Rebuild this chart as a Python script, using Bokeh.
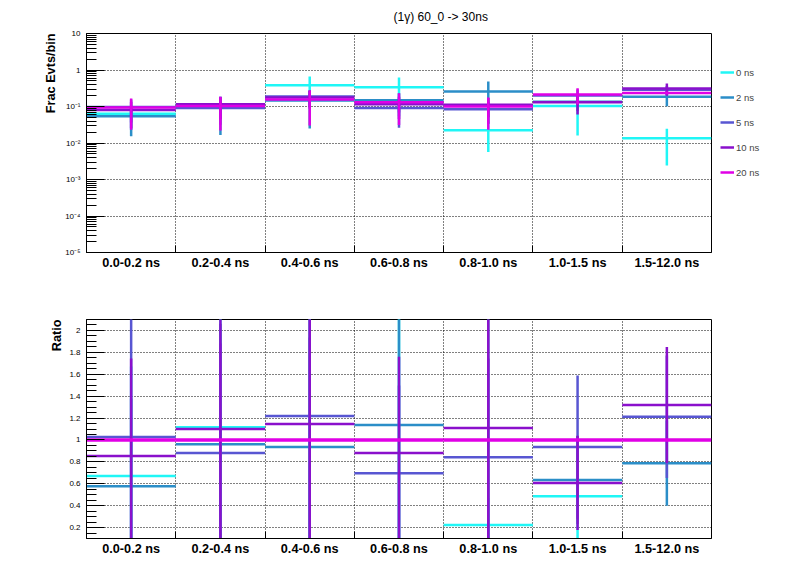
from bokeh.plotting import figure
from bokeh.layouts import column
from bokeh.models import (FixedTicker, CustomJSTickFormatter, Legend,
                          LegendItem, Range1d, Title)
from bokeh.embed import file_html
from bokeh.resources import INLINE

# ---------------- data ----------------
categories = ["0.0-0.2 ns", "0.2-0.4 ns", "0.4-0.6 ns", "0.6-0.8 ns",
              "0.8-1.0 ns", "1.0-1.5 ns", "1.5-12.0 ns"]
series_names = ["0 ns", "2 ns", "5 ns", "10 ns", "20 ns"]
colors = ["#20f6f6", "#2b8ec8", "#5856d2", "#8a10cc", "#e000e6"]

frac_0ns = [0.063, 0.116, 0.385, 0.339, 0.0223, 0.104, 0.0134]
frac_2ns = [0.0543, 0.100, 0.145, 0.149, 0.259, 0.1355, 0.186]
frac_5ns = [0.0965, 0.0915, 0.189, 0.0913, 0.0843, 0.200, 0.286]
frac_10ns = [0.0802, 0.1144, 0.1776, 0.1153, 0.111, 0.130, 0.3115]
frac_20ns = [0.094, 0.104, 0.155, 0.131, 0.100, 0.214, 0.236]

err_0ns = [0.040, 0.070, 0.280, 0.285, 0.0166, 0.088, 0.011]
err_2ns = [0.039, 0.0835, 0.120, 0.080, 0.226, 0.060, 0.085]
err_5ns = [0.060, 0.060, 0.090, 0.065, 0.050, 0.090, 0.080]
err_10ns = [0.055, 0.070, 0.090, 0.070, 0.060, 0.070, 0.116]
err_20ns = [0.071, 0.082, 0.125, 0.100, 0.077, 0.100, 0.020]

ratio_err_0ns = [1.0, 1.3, 2.5, 2.5, 0.25, 0.45, 0.04]
ratio_err_2ns = [0.8, 1.1, 1.0, 1.2, 2.5, 0.40, 0.39]
ratio_err_5ns = [1.2, 1.0, 1.2, 0.8, 0.9, 0.655, 0.56]
ratio_err_10ns = [0.89, 1.2, 1.3, 0.88, 1.2, 0.43, 0.53]
ratio_err_20ns = [0, 0, 0, 0, 0, 0, 0]

title_text = "(1\u03b3) 60_0 -> 30ns"
top_ylabel = "Frac Evts/bin"
bottom_ylabel = "Ratio"
log_ticks = [1e-5, 1e-4, 1e-3, 1e-2, 1e-1, 1, 10]
ratio_ticks = [0.2, 0.4, 0.6, 0.8, 1.0, 1.2, 1.4, 1.6, 1.8, 2.0]

values = [frac_0ns, frac_2ns, frac_5ns, frac_10ns, frac_20ns]
errors = [err_0ns, err_2ns, err_5ns, err_10ns, err_20ns]
ratio_errors = [ratio_err_0ns, ratio_err_2ns, ratio_err_5ns, ratio_err_10ns, ratio_err_20ns]
ref = frac_20ns

FONT = "Liberation Sans"
n = len(categories)
left = list(range(n))
right = [i + 1 for i in range(n)]
center = [i + 0.5 for i in range(n)]


def style(p, yticker, yformatter, ymajor_in, yminor_in):
    p.outline_line_color = "black"
    p.outline_line_width = 1
    p.outline_line_alpha = 1
    p.background_fill_color = "white"
    p.border_fill_color = "white"
    # x axis
    xt = FixedTicker(ticks=center, minor_ticks=list(range(1, n)))
    p.xaxis.ticker = xt
    p.xaxis.major_label_overrides = {c: lab for c, lab in zip(center, categories)}
    p.xaxis.major_tick_in = 0
    p.xaxis.major_tick_out = 0
    p.xaxis.minor_tick_in = 7
    p.xaxis.minor_tick_out = 0
    p.xaxis.major_label_text_font = FONT
    p.xaxis.major_label_text_font_style = "bold"
    p.xaxis.major_label_text_font_size = "12.7px"
    p.xaxis.major_label_text_color = "black"
    p.xaxis.major_label_standoff = 3
    p.xaxis.axis_line_color = "black"
    p.xaxis.major_label_orientation = "horizontal"
    p.xgrid.ticker = FixedTicker(ticks=list(range(1, n)))
    p.xgrid.grid_line_color = "black"
    p.xgrid.grid_line_dash = "1 2"
    p.xgrid.grid_line_width = 1
    # y axis
    p.yaxis.ticker = yticker
    p.ygrid.ticker = yticker
    p.yaxis.formatter = yformatter
    p.yaxis.major_tick_in = ymajor_in
    p.yaxis.major_tick_out = 0
    p.yaxis.minor_tick_in = yminor_in
    p.yaxis.minor_tick_out = 0
    p.yaxis.major_label_text_font = FONT
    p.yaxis.major_label_text_font_size = "8px"
    p.yaxis.major_label_text_color = "black"
    p.yaxis.major_label_standoff = 6
    p.yaxis.axis_line_color = "black"
    p.ygrid.grid_line_color = "black"
    p.ygrid.grid_line_dash = "1 2"
    p.ygrid.grid_line_width = 1


# ---------------- top panel ----------------
p1 = figure(frame_width=625, frame_height=219, min_border_left=86,
            min_border_right=77, min_border_top=33, min_border_bottom=37,
            x_range=Range1d(0, n), y_range=Range1d(1e-5, 10),
            y_axis_type="log", output_backend="svg", toolbar_location=None,
            title=None)

minor_log = [m * 10.0 ** k for k in range(-5, 1) for m in range(2, 10)]
log_ticker = FixedTicker(ticks=log_ticks, minor_ticks=minor_log)
log_fmt = CustomJSTickFormatter(code="""
const e = Math.round(Math.log10(tick));
if (e == 0) return "1";
if (e == 1) return "10";
const sup = {"0":"\u2070","1":"\u00b9","2":"\u00b2","3":"\u00b3","4":"\u2074","5":"\u2075","6":"\u2076","7":"\u2077","8":"\u2078","9":"\u2079","-":"\u207b"};
return "10" + String(e).split("").map(c => sup[c]).join("");
""")
style(p1, log_ticker, log_fmt, 18, 10)

legend_items = []
for name, col, v, e in zip(series_names, colors, values, errors):
    h = p1.segment(x0=left, y0=v, x1=right, y1=v, line_color=col, line_width=2.5)
    lo = [a - b for a, b in zip(v, e)]
    hi = [a + b for a, b in zip(v, e)]
    p1.segment(x0=center, y0=lo, x1=center, y1=hi, line_color=col, line_width=2.5)
    legend_items.append(LegendItem(label=name, renderers=[h]))

legend = Legend(items=legend_items, location=(9, 70), orientation="vertical",
                glyph_width=14, glyph_height=20, label_height=20, spacing=5,
                padding=0, margin=0, border_line_alpha=0,
                background_fill_alpha=0, label_text_font=FONT,
                label_text_font_size="9.5px", label_standoff=2)
p1.add_layout(legend, "right")

p1.add_layout(Title(text=title_text, align="left", offset=307, standoff=16,
                    vertical_align="top",
                    text_font=FONT, text_font_size="12px",
                    text_font_style="normal", text_color="black"), "above")
p1.add_layout(Title(text=top_ylabel, align="right", standoff=9,
                    text_font=FONT, text_font_size="12.7px",
                    text_font_style="bold", text_color="black"), "left")

# ---------------- ratio panel ----------------
p2 = figure(frame_width=625, frame_height=219, min_border_left=86,
            min_border_right=77, min_border_top=30, min_border_bottom=22,
            x_range=Range1d(0, n), y_range=Range1d(0.1, 2.1),
            output_backend="svg", toolbar_location=None, title=None)

minor_lin = [round(0.1 + 0.05 * k, 3) for k in range(0, 41)]
lin_ticker = FixedTicker(ticks=ratio_ticks, minor_ticks=minor_lin)
lin_fmt = CustomJSTickFormatter(code="return String(Number(tick.toFixed(1)));")
style(p2, lin_ticker, lin_fmt, 18, 10)

for idx, (col, v, re_) in enumerate(zip(colors, values, ratio_errors)):
    r = [a / b for a, b in zip(v, ref)]
    lw = 3.5 if idx == len(values) - 1 else 2.5
    p2.segment(x0=left, y0=r, x1=right, y1=r, line_color=col, line_width=lw)
    if any(x > 0 for x in re_):
        lo = [a - b for a, b in zip(r, re_)]
        hi = [a + b for a, b in zip(r, re_)]
        p2.segment(x0=center, y0=lo, x1=center, y1=hi, line_color=col,
                   line_width=2.5)

p2.add_layout(Title(text=bottom_ylabel, align="right", standoff=5,
                    text_font=FONT, text_font_size="12.7px",
                    text_font_style="bold", text_color="black"), "left")

layout = column(p1, p2, spacing=0)
open("out.html", "w").write(file_html(layout, INLINE))
